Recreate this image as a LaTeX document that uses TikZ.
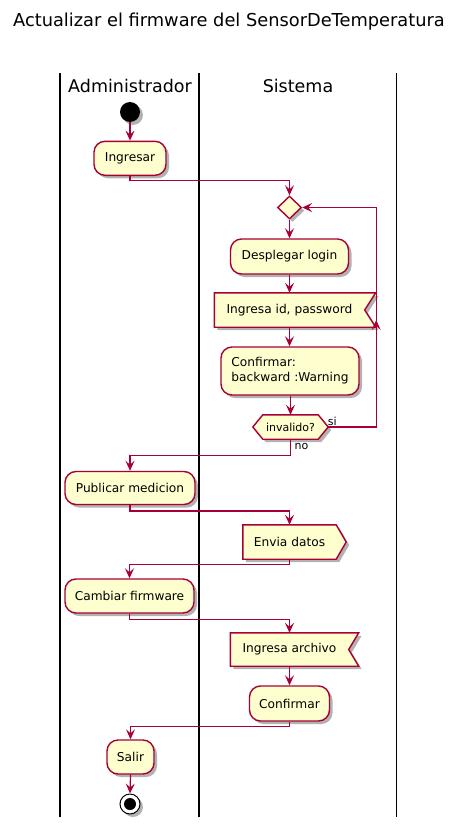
\documentclass[tikz,border=0pt]{standalone}
\usepackage{fontspec}
\setmainfont{DejaVu Sans}
\usetikzlibrary{arrows.meta,shadows,shapes.geometric,decorations.markings}
\definecolor{pfill}{HTML}{FEFECE}
\definecolor{pline}{HTML}{A80036}
\pgfdeclarelayer{bg}
\pgfsetlayers{bg,main}
\begin{document}
\begin{tikzpicture}[x=1pt,y=-1pt,
  shd/.style={drop shadow={shadow xshift=3pt,shadow yshift=-3pt,opacity=.3,fill=black}},
  actbox/.style={draw=pline, fill=pfill, line width=1.4pt, rounded corners=11pt,
    minimum height=34pt, inner sep=0pt, font=\fontsize{12.2}{15}\selectfont, shd},
  txtbox/.style={draw=none, fill=none, minimum height=34pt, inner sep=0pt,
    font=\fontsize{12.2}{15}\selectfont},
  outl/.style={draw=pline, fill=pfill, line width=1.4pt},
  shfill/.style={fill=black, opacity=.3},
  flow/.style={draw=pline, line width=1.2pt, -{Stealth[length=10pt,width=9pt,inset=4pt]}},
  lane/.style={draw=black, line width=1.5pt},
  lbl/.style={font=\fontsize{11}{13}\selectfont, inner sep=0pt}
]
\useasboundingbox (0,0) rectangle (458,827);

% title and lanes
\node[font=\fontsize{17.8}{20}\selectfont, inner sep=0pt] (title) at (229,22) {Actualizar el firmware del SensorDeTemperatura};
\draw[lane] (60,73) -- (60,817);
\draw[lane] (199,73) -- (199,817);
\draw[lane] (396.5,73) -- (396.5,817);
\node[font=\fontsize{17.5}{20}\selectfont, inner sep=0pt] (ladm) at (130,86) {Administrador};
\node[font=\fontsize{17.5}{20}\selectfont, inner sep=0pt] (lsis) at (298,86) {Sistema};

% nodes
\node[circle, fill=black, minimum size=20pt, inner sep=0pt, shd] (start) at (130,112) {};
\node[actbox, minimum width=72pt] (ingresar) at (130,158.3) {Ingresar};
\node[diamond, aspect=1, draw=pline, fill=pfill, line width=1.4pt, minimum width=24pt, minimum height=23pt, inner sep=0pt, shd] (merge) at (289.5,207.5) {};
\node[actbox, minimum width=118pt, minimum height=35pt] (desp) at (289.5,256.5) {Desplegar login};
\node[txtbox, minimum width=150pt] (ing1) at (289.5,310) {Ingresa id, password};
\node[actbox, minimum width=138pt, minimum height=48pt, align=left] (conf) at (290,371) {Confirmar:\\backward :Warning};
\node[txtbox, minimum width=55pt, minimum height=24pt, font=\fontsize{11}{13}\selectfont] (inv) at (290.5,427) {invalido?};
\node[actbox, minimum width=130pt, minimum height=33pt] (pub) at (130,488) {Publicar medicion};
\node[txtbox, minimum width=93pt] (env) at (289.5,542) {Envia datos};
\node[actbox, minimum width=129pt] (camb) at (129.5,596) {Cambiar firmware};
\node[txtbox, minimum width=118pt, minimum height=33pt] (ingarch) at (289.5,649.5) {Ingresa archivo};
\node[actbox, minimum width=80pt, minimum height=35pt] (confirm) at (289.5,703.5) {Confirmar};
\node[actbox, minimum width=47pt] (salir) at (130.5,757) {Salir};
\node[circle, draw=black, fill=white, line width=1pt, minimum size=20pt, inner sep=0pt, shd] (stop) at (130,804) {};
\node[circle, fill=black, minimum size=12pt, inner sep=0pt] (stopin) at (stop.center) {};

% custom outlines
\begin{pgfonlayer}{bg}
  \begin{scope}[transform canvas={xshift=3pt,yshift=-3pt}]
    \fill[shfill] (ing1.north west) -- ([xshift=11pt]ing1.north east) -- (ing1.east) -- ([xshift=11pt]ing1.south east) -- (ing1.south west) -- cycle;
    \fill[shfill] (inv.north west) -- (inv.north east) -- ([xshift=10pt]inv.east) -- (inv.south east) -- (inv.south west) -- ([xshift=-10pt]inv.west) -- cycle;
    \fill[shfill] (env.north west) -- (env.north east) -- ([xshift=10pt]env.east) -- (env.south east) -- (env.south west) -- cycle;
    \fill[shfill] (ingarch.north west) -- ([xshift=10pt]ingarch.north east) -- (ingarch.east) -- ([xshift=10pt]ingarch.south east) -- (ingarch.south west) -- cycle;
  \end{scope}
  \draw[outl] (ing1.north west) -- ([xshift=11pt]ing1.north east) -- (ing1.east) -- ([xshift=11pt]ing1.south east) -- (ing1.south west) -- cycle;
  \draw[outl] (inv.north west) -- (inv.north east) -- ([xshift=10pt]inv.east) -- (inv.south east) -- (inv.south west) -- ([xshift=-10pt]inv.west) -- cycle;
  \draw[outl] (env.north west) -- (env.north east) -- ([xshift=10pt]env.east) -- (env.south east) -- (env.south west) -- cycle;
  \draw[outl] (ingarch.north west) -- ([xshift=10pt]ingarch.north east) -- (ingarch.east) -- ([xshift=10pt]ingarch.south east) -- (ingarch.south west) -- cycle;
\end{pgfonlayer}

% connectors
\draw[flow] (start) -- (ingresar);
\draw[flow] (ingresar.south) -- ++(0,4.7) -| (merge.north);
\draw[flow] (merge.south) -- (desp.north);
\draw[flow] (desp.south) -- (desp.south |- ing1.north);
\draw[flow] (ing1.south) -- (ing1.south |- conf.north);
\draw[flow] (conf.south -| inv.north) -- (inv.north);
\draw[flow, postaction={decorate}, decoration={markings, mark=at position 155pt with {\arrow[color=pline]{Stealth[length=10pt,width=9pt,inset=4pt]}}}]
  ([xshift=10pt]inv.east) -- ++(48,0) node[lbl, pos=0, anchor=base west, xshift=-1pt, yshift=2pt] (si) {si} |- (merge.east);
\draw[flow] (inv.south) -- ++(0,16.5) -| (pub.north);
\node[lbl, anchor=base west] (no) at (294.5,449) {no};
\draw[flow] (pub.south) -- ++(0,5.7) -| (env.north);
\draw[flow] (env.south) -- ++(0,5.3) -| (camb.north);
\draw[flow] (camb.south) -- ++(0,6) -| (ingarch.north);
\draw[flow] (ingarch.south) -- (ingarch.south |- confirm.north);
\draw[flow] (confirm.south) -- ++(0,5) -| (salir.north);
\draw[flow] (salir.south) -- (stop.north);
\end{tikzpicture}
\end{document}
